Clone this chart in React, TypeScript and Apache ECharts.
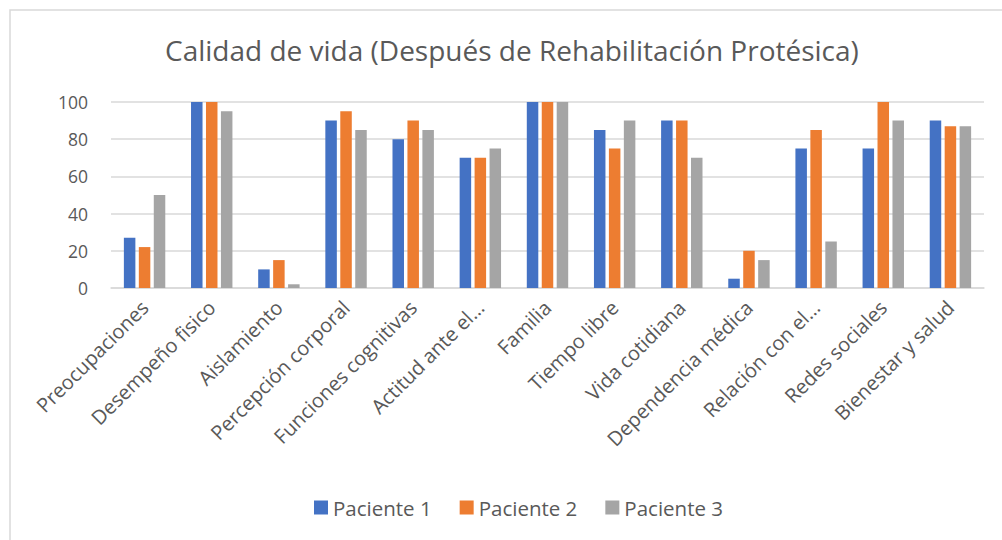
import React, { useEffect, useRef } from "react";
import * as echarts from "echarts";

const categories = [
  "Preocupaciones",
  "Desempeño fisico",
  "Aislamiento",
  "Percepción corporal",
  "Funciones cognitivas",
  "Actitud ante el…",
  "Familia",
  "Tiempo libre",
  "Vida cotidiana",
  "Dependencia médica",
  "Relación con el…",
  "Redes sociales",
  "Bienestar y salud",
];

const paciente1 = [27, 100, 10, 90, 80, 70, 100, 85, 90, 5, 75, 75, 90];
const paciente2 = [22, 100, 15, 95, 90, 70, 100, 75, 90, 20, 85, 100, 87];
const paciente3 = [50, 95, 2, 85, 85, 75, 100, 90, 70, 15, 25, 90, 87];

const seriesNames = ["Paciente 1", "Paciente 2", "Paciente 3"];
const colors = ["#4472C4", "#ED7D31", "#A5A5A5"];
const yTicks = [0, 20, 40, 60, 80, 100];

const FONT = "'Open Sans', 'Noto Sans', sans-serif";
const TEXT = "#595959";

export default function App() {
  const ref = useRef<HTMLDivElement>(null);
  useEffect(() => {
    if (!ref.current) return;
    const chart = echarts.init(ref.current, undefined, { renderer: "svg" });
    const data = [paciente1, paciente2, paciente3];
    chart.setOption({
      animation: false,
      backgroundColor: "#ffffff",
      title: {
        text: "Calidad de vida (Después de Rehabilitación Protésica)",
        left: 160,
        top: 31,
        textStyle: {
          fontFamily: FONT,
          fontSize: 28,
          fontWeight: "normal",
          color: TEXT,
        },
      },
      legend: {
        bottom: 17,
        left: 309,
        itemWidth: 14,
        itemHeight: 14,
        itemGap: 28,
        icon: "rect",
        textStyle: { fontFamily: FONT, fontSize: 20.5, color: TEXT },
        data: seriesNames,
      },
      graphic: [
        {
          type: "rect",
          shape: { x: 10, y: 10, width: 1100, height: 700 },
          style: { fill: "none", stroke: "#d9d9d9", lineWidth: 1.5 },
          silent: true,
          z: -1,
        },
      ],
      grid: { left: 111, right: 18, top: 102, bottom: 252, containLabel: false },
      xAxis: {
        type: "category",
        data: categories,
        axisLine: { lineStyle: { color: "#d9d9d9", width: 1.5 } },
        axisTick: { show: false },
        axisLabel: {
          rotate: 45,
          interval: 0,
          margin: 16,
          fontFamily: FONT,
          fontSize: 20,
          color: TEXT,
        },
      },
      yAxis: {
        type: "value",
        min: yTicks[0],
        max: yTicks[yTicks.length - 1],
        interval: 20,
        axisLine: { show: false },
        axisTick: { show: false },
        splitLine: { lineStyle: { color: "#d9d9d9", width: 1.5 } },
        axisLabel: {
          margin: 23,
          fontFamily: FONT,
          fontSize: 17.5,
          color: TEXT,
        },
      },
      series: seriesNames.map((name, i) => ({
        name,
        type: "bar",
        data: data[i],
        barWidth: 11.5,
        barGap: "30%",
        itemStyle: { color: colors[i] },
      })),
    });
    return () => chart.dispose();
  }, []);
  return (
    <div
      ref={ref}
      style={{ position: "fixed", left: 0, top: 0, width: 1002, height: 540 }}
    />
  );
}
